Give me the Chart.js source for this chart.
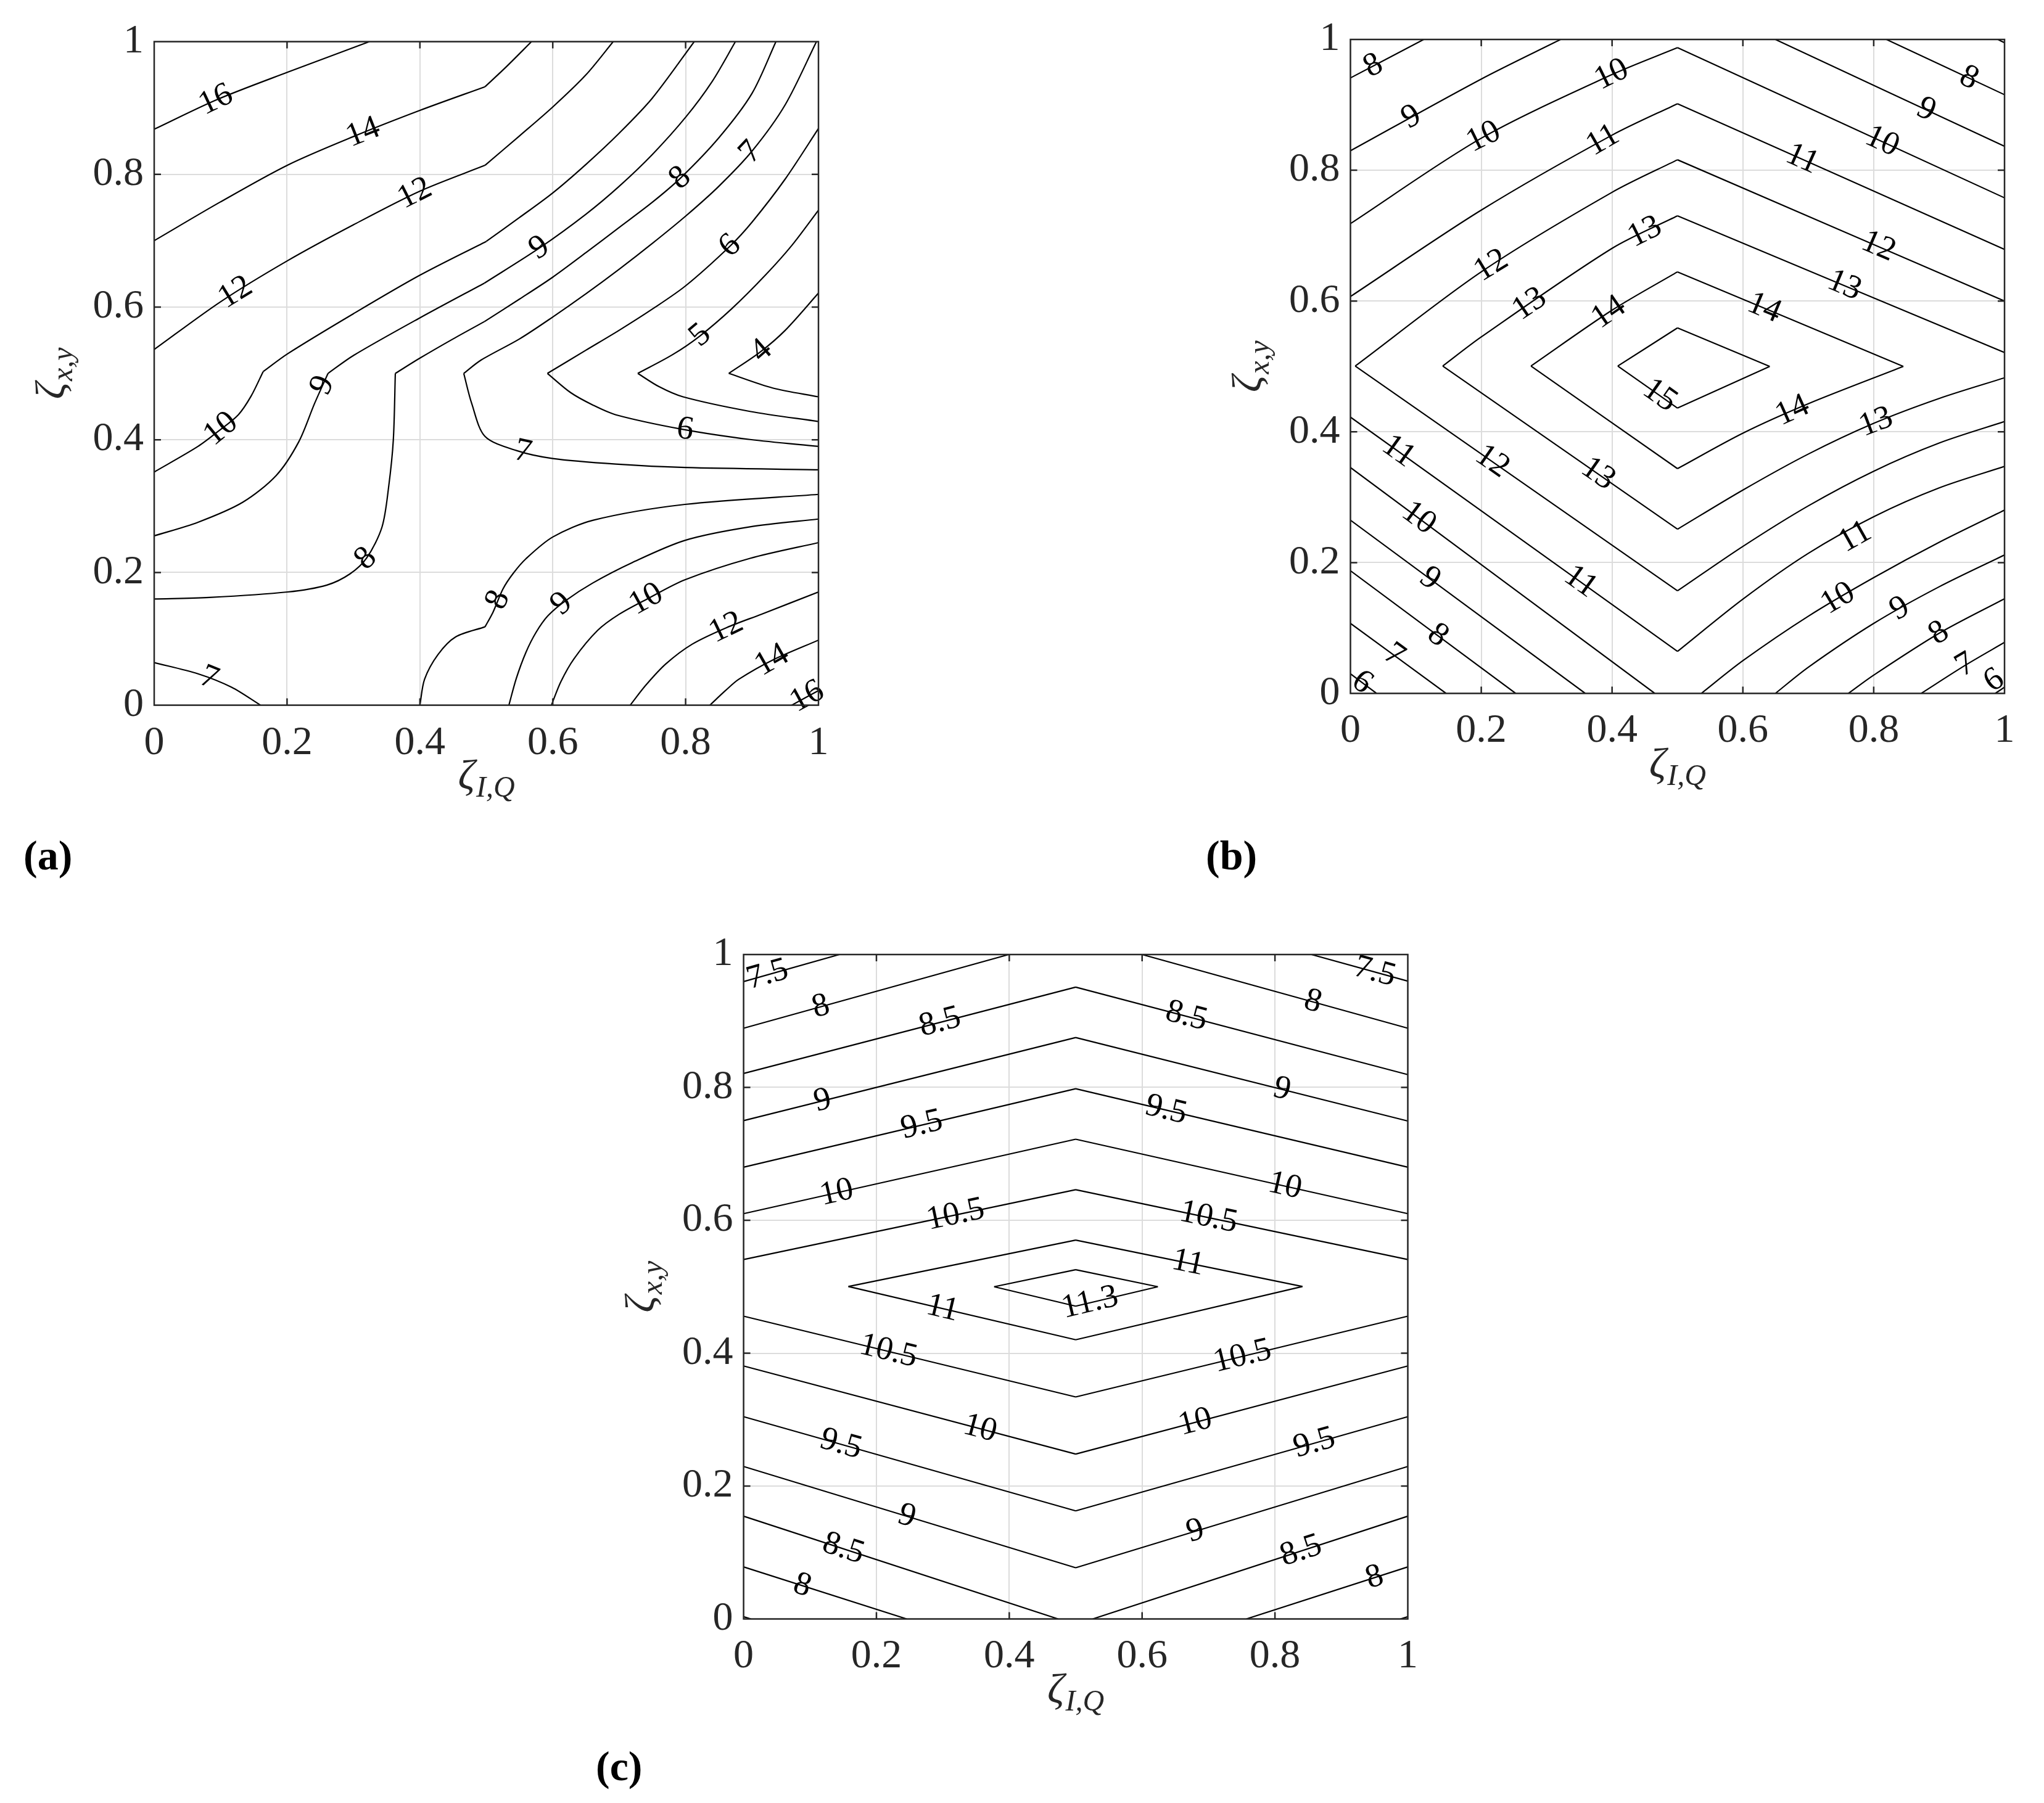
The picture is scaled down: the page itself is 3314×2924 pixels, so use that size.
<!DOCTYPE html>
<html><head><meta charset="utf-8">
<script src="https://cdn.jsdelivr.net/npm/chart.js@4.4.1/dist/chart.umd.min.js"></script>
<style>
html,body{margin:0;padding:0;background:#fff;width:3314px;height:2924px;overflow:hidden;}
canvas{position:absolute;}
.plabel{position:absolute;font-family:"Liberation Serif","Times New Roman",serif;font-weight:bold;font-size:68px;line-height:68px;color:#000;white-space:nowrap;}
</style></head><body>
<canvas id="ca" width="1420" height="1340" style="left:0px;top:0px"></canvas>
<canvas id="cb" width="1414" height="1340" style="left:1900px;top:0px"></canvas>
<canvas id="cc" width="1400" height="1340" style="left:1000px;top:1460px"></canvas>
<div class="plabel" style="left:38px;top:1353px">(a)</div>
<div class="plabel" style="left:1955px;top:1353px">(b)</div>
<div class="plabel" style="left:966px;top:2830px">(c)</div>
<script>
// ---------- shared axis text ----------
const tickLabels = ['0', '0.2', '0.4', '0.6', '0.8', '1'];
const innerTicks = [0.2, 0.4, 0.6, 0.8];
const xTitle = ['ζ', 'I,Q'];
const yTitle = ['ζ', 'x,y'];

// ---------- panel (a): contour pieces [level, points] ----------
const contoursA = [
  ['16', [[0,0.868],[0.093,0.912],[0.201,0.954],[0.324,1]]],
  ['14', [[0,0.700],[0.099,0.758],[0.201,0.814],[0.3,0.857],[0.4,0.8964],[0.498,0.932]]],
  ['14', [[0.498,0.932],[0.53,0.962],[0.568,1]]],
  ['12', [[0,0.536],[0.1,0.608],[0.201,0.670],[0.3,0.724],[0.4,0.7747],[0.498,0.8136]]],
  ['12', [[0.498,0.8136],[0.55,0.858],[0.6,0.9015],[0.65,0.95],[0.691,1]]],
  ['10', [[0,0.3514],[0.066,0.390],[0.098,0.414],[0.1266,0.4376],[0.146,0.466],[0.164,0.5027]]],
  ['10', [[0.164,0.5027],[0.201,0.5297],[0.3,0.59],[0.4,0.648],[0.5,0.699]]],
  ['10', [[0.5,0.699],[0.55,0.735],[0.6,0.772],[0.65,0.815],[0.7,0.862],[0.75,0.915],[0.813,1]]],
  ['9', [[0,0.2552],[0.066,0.2757],[0.1333,0.3058],[0.1838,0.3463],[0.2177,0.397],[0.2414,0.4546],[0.2617,0.5]]],
  ['9', [[0.2617,0.5],[0.3,0.527],[0.4,0.5837],[0.497,0.636]]],
  ['9', [[0.497,0.636],[0.58,0.689],[0.65,0.74],[0.7,0.782],[0.75,0.83],[0.8,0.886],[0.84,0.94],[0.875,1]]],
  ['8', [[0,0.160],[0.083,0.1623],[0.201,0.1706],[0.26,0.181],[0.295,0.198],[0.32,0.222],[0.343,0.2687],[0.353,0.3295],[0.36,0.400],[0.363,0.5]]],
  ['8', [[0.363,0.5],[0.4,0.523],[0.45,0.552],[0.497,0.578]]],
  ['8', [[0.497,0.578],[0.55,0.612],[0.6,0.645],[0.65,0.682],[0.7,0.72],[0.75,0.758],[0.793,0.795],[0.85,0.855],[0.9,0.922],[0.936,1]]],
  ['8', [[0.400,0],[0.407,0.039],[0.427,0.076],[0.454,0.103],[0.498,0.118]]],
  ['8', [[0.498,0.118],[0.51,0.14],[0.525,0.175],[0.54,0.198],[0.56,0.221],[0.6,0.2534],[0.661,0.2788],[0.799,0.3026],[1,0.3177]]],
  ['7', [[0.466,0.5],[0.492,0.52],[0.55,0.552],[0.6,0.585],[0.65,0.62],[0.7,0.657],[0.75,0.696],[0.8,0.737],[0.85,0.782],[0.9,0.835],[0.95,0.905],[0.997,1]]],
  ['7', [[0.466,0.5],[0.478,0.4546],[0.498,0.405],[0.546,0.3835],[0.6,0.3717],[0.695,0.3633],[0.799,0.3582],[1,0.3548]]],
  ['7', [[0,0.0642],[0.066,0.0473],[0.1165,0.027],[0.160,0]]],
  ['6', [[0.592,0.5],[0.65,0.535],[0.7,0.565],[0.75,0.597],[0.8,0.632],[0.867,0.692],[0.9,0.728],[0.95,0.793],[1,0.869]]],
  ['6', [[0.592,0.5],[0.627,0.471],[0.661,0.452],[0.695,0.4376],[0.796,0.4156],[0.897,0.4004],[1,0.390]]],
  ['5', [[0.728,0.5],[0.78,0.528],[0.821,0.556],[0.87,0.598],[0.92,0.648],[0.96,0.693],[1,0.746]]],
  ['5', [[0.728,0.5],[0.76,0.48],[0.796,0.4647],[0.897,0.4427],[1,0.4275]]],
  ['4', [[0.865,0.5],[0.912,0.532],[0.95,0.565],[1,0.621]]],
  ['4', [[0.865,0.5],[0.931,0.478],[1,0.4647]]],
  ['9', [[0.534,0],[0.545,0.04],[0.5596,0.0796],[0.575,0.11],[0.593,0.135],[0.62,0.158],[0.66,0.184],[0.72,0.215],[0.799,0.2483],[0.897,0.2687],[1,0.2805]]],
  ['10', [[0.598,0],[0.612,0.035],[0.632,0.07],[0.6676,0.1127],[0.70,0.137],[0.742,0.16],[0.799,0.189],[0.897,0.2213],[1,0.245]]],
  ['12', [[0.7166,0],[0.74,0.03],[0.77,0.062],[0.81,0.092],[0.862,0.117],[0.914,0.137],[1,0.1706]]],
  ['14', [[0.8366,0],[0.86,0.022],[0.88,0.039],[0.931,0.068],[1,0.098]]],
  ['16', [[0.9597,0],[1,0.022]]]
];
const labelsA = [
  ['16',0.093,0.912],['14',0.314,0.864],['12',0.123,0.621],['12',0.393,0.770],
  ['10',0.098,0.419],['9',0.255,0.4815],['9',0.580,0.689],['8',0.793,0.793],['7',0.899,0.832],
  ['6',0.867,0.692],['5',0.821,0.5585],['4',0.912,0.5364],['7',0.5546,0.380],['6',0.799,0.414],
  ['8',0.321,0.218],['8',0.517,0.159],['9',0.617,0.1487],['10',0.742,0.157],['12',0.862,0.115],
  ['14',0.931,0.066],['16',0.978,0.022],['7',0.083,0.042]
];

// ---------- panel (b) ----------
const contoursB = [
  ['8', [[0,0.9412],[0.112,1]]],
  ['9', [[0,0.8298],[0.2,0.9395],[0.3212,1]]],
  ['10', [[0,0.7184],[0.2,0.849],[0.4,0.9464],[0.5,0.9875]]],
  ['11', [[0,0.6069],[0.2,0.739],[0.4,0.8537],[0.5,0.9018]]],
  ['12', [[0.0073,0.5006],[0.2,0.6446],[0.4,0.7663],[0.5,0.816]]],
  ['13', [[0.1411,0.5006],[0.2,0.5451],[0.4,0.6806],[0.5,0.7303]]],
  ['14', [[0.276,0.5006],[0.4,0.586],[0.5,0.6446]]],
  ['15', [[0.4087,0.5006],[0.5,0.5589]]],
  ['7', [[0.99,1],[1,0.995]]],
  ['8', [[0.8195,1],[1,0.9155]]],
  ['9', [[0.6497,1],[1,0.8366]]],
  ['10', [[0.5,0.9875],[1,0.7578]]],
  ['11', [[0.5,0.9018],[1,0.6789]]],
  ['12', [[0.5,0.816],[1,0.600]]],
  ['13', [[0.5,0.7303],[1,0.5212]]],
  ['14', [[0.5,0.6446],[0.8453,0.5]]],
  ['15', [[0.5,0.5589],[0.641,0.5]]],
  ['6', [[0,0.030],[0.0399,0]]],
  ['7', [[0,0.1071],[0.1462,0]]],
  ['8', [[0,0.1876],[0.2526,0]]],
  ['9', [[0,0.2649],[0.359,0]]],
  ['10', [[0,0.3454],[0.4653,0]]],
  ['11', [[0,0.4225],[0.5,0.0642]]],
  ['12', [[0.0073,0.5006],[0.5,0.1568]]],
  ['13', [[0.1411,0.5006],[0.5,0.2511]]],
  ['14', [[0.276,0.5006],[0.5,0.3437]]],
  ['15', [[0.4087,0.5006],[0.5,0.4363]]],
  ['15', [[0.5,0.4363],[0.641,0.5]]],
  ['14', [[0.5,0.3437],[0.6,0.398],[0.7,0.443],[0.8453,0.5]]],
  ['13', [[0.5,0.2511],[0.6,0.311],[0.7,0.366],[0.8,0.413],[0.9,0.451],[1,0.4826]]],
  ['12', [[0.5,0.1568],[0.6,0.2248],[0.7,0.2868],[0.8,0.3398],[0.9,0.3828],[1,0.4157]]],
  ['11', [[0.5,0.0642],[0.6,0.1442],[0.7,0.2142],[0.8,0.2702],[0.9,0.3142],[1,0.3471]]],
  ['10', [[0.5365,0],[0.6,0.05],[0.7,0.118],[0.8,0.177],[0.9,0.231],[1,0.2803]]],
  ['9', [[0.6497,0],[0.7,0.04],[0.8,0.107],[0.9,0.163],[1,0.2117]]],
  ['8', [[0.7612,0],[0.8,0.028],[0.9,0.092],[1,0.1448]]],
  ['7', [[0.8726,0],[0.94,0.043],[1,0.078]]],
  ['6', [[0.9858,0],[1,0.0094]]]
];
const labelsB = [
  ['8',0.033,0.9635],['9',0.0896,0.888],['10',0.2046,0.8487],['10',0.3984,0.948],['11',0.3863,0.8452],
  ['12',0.2149,0.6549],['13',0.273,0.5966],['13',0.4499,0.7063],['14',0.3948,0.5828],
  ['8',0.948,0.9463],['9',0.883,0.8983],['10',0.8143,0.8469],['11',0.6925,0.8212],['12',0.8075,0.684],
  ['13',0.756,0.6258],['14',0.6342,0.5931],
  ['15',0.4739,0.4569],['11',0.0776,0.3762],['11',0.359,0.1809],['12',0.2235,0.3642],['13',0.383,0.342],
  ['10',0.1085,0.2735],['9',0.1257,0.1809],['8',0.136,0.0917],['7',0.0708,0.0642],['6',0.0175,0.0165],
  ['14',0.6755,0.4328],['13',0.8058,0.4089],['11',0.7715,0.2391],['10',0.7424,0.15],['9',0.8401,0.1294],
  ['8',0.9,0.0917],['7',0.9378,0.0471],['6',0.9841,0.0197]
];

// ---------- panel (c) ----------
const contoursC = [
  ['7.5', [[0,0.9593],[0.1442,1]]],
  ['8', [[0,0.8891],[0.3992,1]]],
  ['8.5', [[0,0.821],[0.5,0.9509]]],
  ['9', [[0,0.750],[0.5,0.875]]],
  ['9.5', [[0,0.6799],[0.5,0.798]]],
  ['10', [[0,0.61],[0.5,0.722]]],
  ['10.5', [[0,0.5409],[0.5,0.6461]]],
  ['11', [[0.1578,0.5003],[0.5,0.5702]]],
  ['11.3', [[0.3772,0.5],[0.5,0.5257]]],
  ['7.5', [[0.855,1],[1,0.960]]],
  ['8', [[0.6,1],[1,0.8891]]],
  ['8.5', [[0.5,0.9509],[1,0.8193]]],
  ['9', [[0.5,0.875],[1,0.7494]]],
  ['9.5', [[0.5,0.798],[1,0.6799]]],
  ['10', [[0.5,0.722],[1,0.61]]],
  ['10.5', [[0.5,0.6461],[1,0.5409]]],
  ['11', [[0.5,0.5702],[0.8414,0.5003]]],
  ['11.3', [[0.5,0.5257],[0.6237,0.5]]],
  ['7.5', [[0,0.0034],[0.011,0]]],
  ['8', [[0,0.0783],[0.2455,0]]],
  ['8.5', [[0,0.1546],[0.4735,0]]],
  ['9', [[0,0.2295],[0.5,0.077]]],
  ['9.5', [[0,0.3044],[0.5,0.1627]]],
  ['10', [[0,0.3807],[0.5,0.2481]]],
  ['10.5', [[0,0.4557],[0.5,0.3341]]],
  ['11', [[0.1578,0.5003],[0.5,0.4202]]],
  ['11.3', [[0.3772,0.5],[0.5,0.4708]]],
  ['7.5', [[0.989,0],[1,0.0034]]],
  ['8', [[0.757,0],[1,0.0783]]],
  ['8.5', [[0.5257,0],[1,0.1546]]],
  ['9', [[0.5,0.077],[1,0.2295]]],
  ['9.5', [[0.5,0.1627],[1,0.3044]]],
  ['10', [[0.5,0.2481],[1,0.3807]]],
  ['10.5', [[0.5,0.3341],[1,0.4557]]],
  ['11', [[0.5,0.4202],[0.8414,0.5003]]],
  ['11.3', [[0.5,0.4708],[0.6237,0.5]]]
];
const labelsC = [
  ['7.5',0.0361,0.9695],['8',0.1172,0.9188],['8.5',0.2961,0.8969],['9',0.1189,0.7805],['9.5',0.2692,0.740],
  ['10',0.1408,0.6387],['10.5',0.3198,0.605],
  ['7.5',0.9495,0.9711],['8',0.8566,0.9272],['8.5',0.6658,0.9036],['9',0.8094,0.7923],['9.5',0.6355,0.7636],
  ['10',0.8144,0.6488],['10.5',0.6995,0.6016],['11',0.6693,0.5374],
  ['11',0.2995,0.4675],['10.5',0.2185,0.405],['10',0.357,0.2903],['9.5',0.1476,0.2666],['9',0.2472,0.1587],
  ['8.5',0.151,0.108],['8',0.0885,0.0507],
  ['11.3',0.5207,0.4793],['10.5',0.7503,0.3982],['10',0.6794,0.2987],['9.5',0.8583,0.2683],['9',0.6794,0.135],
  ['8.5',0.8397,0.1013],['8',0.9495,0.0641]
];

// ---------- drawing ----------
const SERIF = '"Liberation Serif", "Times New Roman", serif';
const AXIS_COLOR = '#262626';

function drawSubText(ctx, parts) {
  ctx.font = 'italic 68px ' + SERIF;
  const w1 = ctx.measureText(parts[0]).width;
  ctx.font = 'italic 48px ' + SERIF;
  const w2 = ctx.measureText(parts[1]).width;
  const x0 = -(w1 + w2 + 2) / 2;
  ctx.textAlign = 'left';
  ctx.textBaseline = 'alphabetic';
  ctx.font = 'italic 68px ' + SERIF;
  ctx.fillText(parts[0], x0, 0);
  ctx.font = 'italic 48px ' + SERIF;
  ctx.fillText(parts[1], x0 + w1 + 2, 13);
}

function makeFrame(pieces, labels) {
  return {
    id: 'frame',
    afterDatasetsDraw(chart) {
      const {ctx, scales: {x, y}} = chart;
      const px = pts => pts.map(([a, b]) => [x.getPixelForValue(a), y.getPixelForValue(b)]);
      ctx.save();
      ctx.fillStyle = '#000';
      ctx.font = '54px ' + SERIF;
      ctx.textAlign = 'center';
      ctx.textBaseline = 'middle';
      for (const [txt, lx, ly] of labels) {
        const P = [x.getPixelForValue(lx), y.getPixelForValue(ly)];
        let best = null;
        for (const [lvl, pts] of pieces) {
          if (lvl !== txt) continue;
          const q = px(pts);
          for (let i = 0; i < q.length - 1; i++) {
            const [x1, y1] = q[i], [x2, y2] = q[i + 1];
            const dx = x2 - x1, dy = y2 - y1;
            const L2 = dx * dx + dy * dy || 1;
            let t = ((P[0] - x1) * dx + (P[1] - y1) * dy) / L2;
            t = Math.max(0, Math.min(1, t));
            const cx = x1 + t * dx, cy = y1 + t * dy;
            const d = Math.hypot(P[0] - cx, P[1] - cy);
            if (!best || d < best.d) best = {d, cx, cy, ang: Math.atan2(dy, dx)};
          }
        }
        let ang = best ? best.ang : 0;
        if (ang > Math.PI / 2) ang -= Math.PI;
        if (ang < -Math.PI / 2) ang += Math.PI;
        const snap = best && best.d < 14;
        ctx.save();
        ctx.translate(snap ? best.cx : P[0], snap ? best.cy : P[1]);
        ctx.rotate(ang);
        ctx.fillText(txt, 0, 0);
        ctx.restore();
      }
      ctx.restore();
    },
    afterDraw(chart) {
      const {ctx, chartArea: a, scales: {x, y}} = chart;
      ctx.save();
      ctx.strokeStyle = AXIS_COLOR;
      ctx.lineWidth = 2.5;
      ctx.strokeRect(a.left, a.top, a.right - a.left, a.bottom - a.top);
      const tl = 11;
      ctx.beginPath();
      for (const v of innerTicks) {
        const X = x.getPixelForValue(v), Y = y.getPixelForValue(v);
        ctx.moveTo(X, a.bottom); ctx.lineTo(X, a.bottom - tl);
        ctx.moveTo(X, a.top); ctx.lineTo(X, a.top + tl);
        ctx.moveTo(a.left, Y); ctx.lineTo(a.left + tl, Y);
        ctx.moveTo(a.right, Y); ctx.lineTo(a.right - tl, Y);
      }
      ctx.stroke();
      ctx.fillStyle = AXIS_COLOR;
      ctx.save();
      ctx.translate((a.left + a.right) / 2, a.bottom + 135);
      drawSubText(ctx, xTitle);
      ctx.restore();
      ctx.save();
      ctx.translate(a.left - 146, (a.top + a.bottom) / 2);
      ctx.rotate(-Math.PI / 2);
      drawSubText(ctx, yTitle);
      ctx.restore();
      ctx.restore();
    }
  };
}

function makeChart(id, pieces, labels, pad, tension) {
  const datasets = pieces.map(([lvl, pts]) => ({
    label: lvl,
    data: pts.map(([px, py]) => ({x: px, y: py})),
    showLine: true,
    borderColor: '#000',
    borderWidth: 2.2,
    pointRadius: 0,
    pointHoverRadius: 0,
    tension: tension,
    fill: false
  }));
  const tickFont = {family: SERIF, size: 66};
  const grid = {color: '#dcdcdc', lineWidth: 2, drawTicks: false};
  new Chart(document.getElementById(id), {
    type: 'scatter',
    data: {datasets},
    options: {
      responsive: false,
      animation: false,
      devicePixelRatio: 1,
      layout: {padding: pad},
      plugins: {legend: {display: false}, tooltip: {enabled: false}},
      events: [],
      scales: {
        x: {
          type: 'linear', min: 0, max: 1,
          afterFit(s) { s.height = 150; },
          ticks: {stepSize: 0.2, padding: 22, color: AXIS_COLOR, font: tickFont, maxRotation: 0, autoSkip: false,
                  callback: v => tickLabels[Math.round(v * 5)]},
          grid: grid, border: {display: false}
        },
        y: {
          type: 'linear', min: 0, max: 1,
          afterFit(s) { s.width = 150; },
          ticks: {stepSize: 0.2, padding: 17, color: AXIS_COLOR, font: tickFont, autoSkip: false,
                  callback: v => tickLabels[Math.round(v * 5)]},
          grid: grid, border: {display: false}
        }
      }
    },
    plugins: [makeFrame(pieces, labels)]
  });
}

makeChart('ca', contoursA, labelsA, {left: 100, top: 67.5, right: 93, bottom: 46.4}, 0.3);
makeChart('cb', contoursB, labelsB, {left: 139.5, top: 64, right: 64, bottom: 65.5}, 0.3);
makeChart('cc', contoursC, labelsC, {left: 55.6, top: 88, right: 117.5, bottom: 24.5}, 0);
</script>
</body></html>
